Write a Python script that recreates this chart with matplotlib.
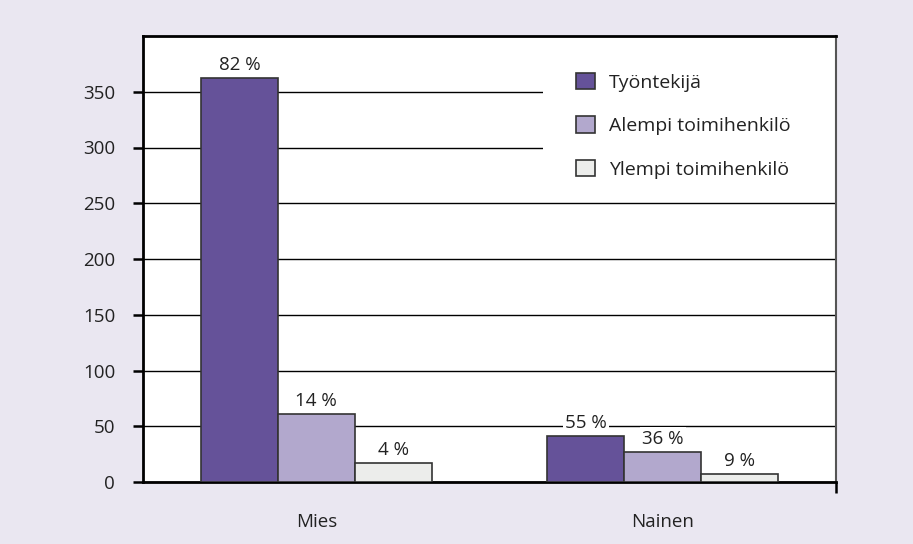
import matplotlib
matplotlib.use("Agg")
import matplotlib.pyplot as plt
import numpy as np
from matplotlib.patches import Patch, Rectangle

categories = ["Mies", "Nainen"]
series_names = ["Työntekijä", "Alempi toimihenkilö", "Ylempi toimihenkilö"]
tyontekija = [362, 41]
alempi = [61, 27]
ylempi = [17, 7]
pct_tyontekija = ["82 %", "55 %"]
pct_alempi = ["14 %", "36 %"]
pct_ylempi = ["4 %", "9 %"]
yticks = [0, 50, 100, 150, 200, 250, 300, 350]

colors = ["#655299", "#B2A8CD", "#ECEDEB"]
bg = "#EAE7F1"
fs = 13.5

plt.rcParams['font.family'] = ['Open Sans', 'DejaVu Sans']

fig = plt.figure(figsize=(9.13, 5.44), dpi=100, facecolor=bg)
ax = fig.add_axes([143/913, 1 - 482/544, (836 - 143)/913, (482 - 36)/544])
ax.set_facecolor("white")

x = np.arange(len(categories))
w = 0.222
series = [tyontekija, alempi, ylempi]
pcts = [pct_tyontekija, pct_alempi, pct_ylempi]
for i, (vals, lab, col, pl) in enumerate(zip(series, series_names, colors, pcts)):
    pos = x + (i - 1) * w
    ax.bar(pos, vals, width=w, color=col, edgecolor="#333333", linewidth=1.2,
           label=lab, zorder=3)
    for xp, v, t in zip(pos, vals, pl):
        ax.annotate(t, (xp, v), xytext=(0, 3), textcoords="offset points",
                    ha="center", va="bottom", fontsize=fs, color="#222222",
                    bbox=dict(boxstyle="square,pad=0.12", fc="white", ec="none"),
                    zorder=5)

ax.set_xlim(-0.5, 1.5)
ax.set_ylim(0, 400)
ax.set_yticks(yticks)
ax.set_yticklabels([str(v) for v in yticks], fontsize=fs, color="#222222")
ax.yaxis.grid(True, color="black", linewidth=1.0, zorder=1)
ax.set_axisbelow(True)
ax.tick_params(axis="y", direction="out", length=7, width=1.8, color="black", pad=13)

ax.set_xticks(x)
ax.set_xticklabels(categories, fontsize=fs, color="#222222")
ax.tick_params(axis="x", which="major", length=0, pad=22)
ax.set_xticks([1.5], minor=True)
ax.tick_params(axis="x", which="minor", direction="out", length=8, width=1.8, color="black")

for s in ["left", "bottom", "top"]:
    ax.spines[s].set_color("black")
    ax.spines[s].set_linewidth(2.0)
ax.spines["right"].set_color("#555555")
ax.spines["right"].set_linewidth(1.5)

# white legend area covering grid lines
ax.add_patch(Rectangle((0.577, 0.655), 0.423, 0.34, transform=ax.transAxes,
                       facecolor="white", edgecolor="none", zorder=2))

handles = [Patch(facecolor=c, edgecolor="#333333", linewidth=1.2) for c in colors]
leg = ax.legend(handles, series_names, loc="upper left", bbox_to_anchor=(0.625, 0.918),
                frameon=False, fontsize=14, handlelength=0.95, handleheight=0.95,
                labelspacing=1.26, handletextpad=0.75, borderpad=0, borderaxespad=0)
leg.set_zorder(4)
for t in leg.get_texts():
    t.set_color("#222222")

fig.savefig("out.png", dpi=100, facecolor=bg)
